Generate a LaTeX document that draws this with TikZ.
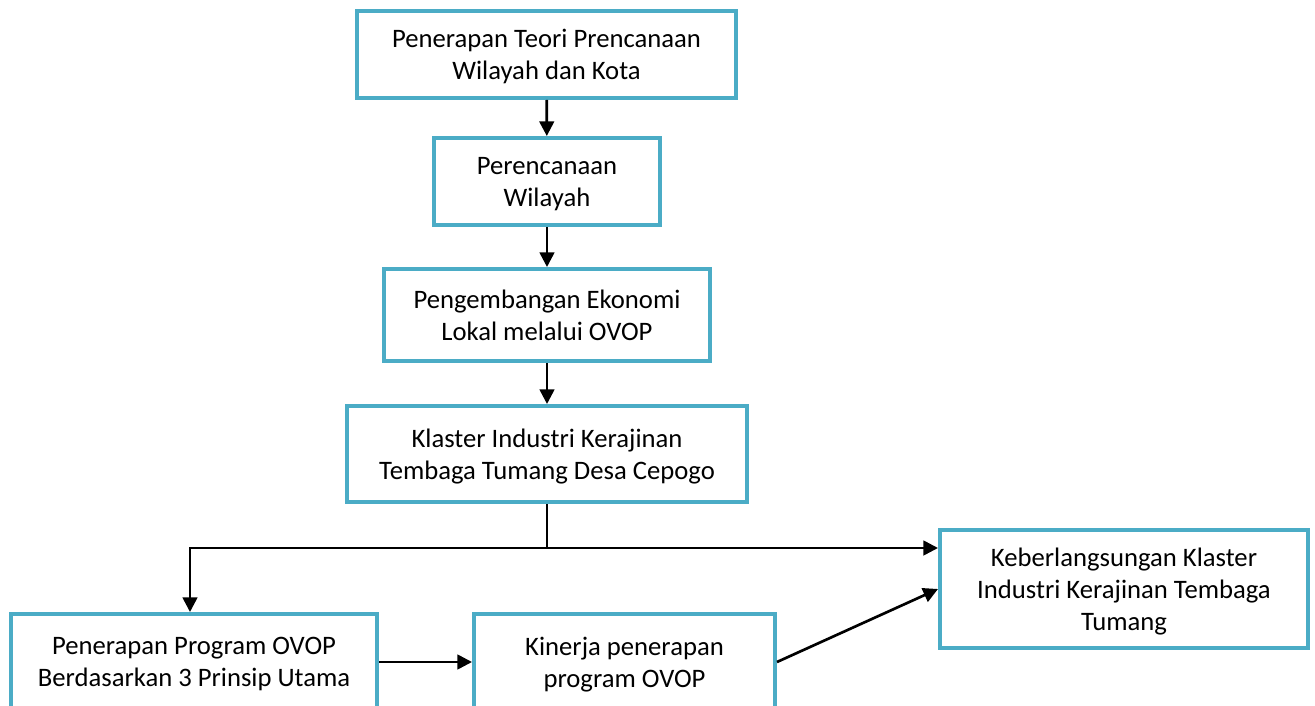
\documentclass[tikz,border=0pt]{standalone}
\usepackage{fontspec}
\setmainfont{Carlito}
\usetikzlibrary{arrows.meta}
\definecolor{boxblue}{HTML}{4BACC6}
\begin{document}
\begin{tikzpicture}[x=0.75pt,y=-0.75pt,
  box/.style={draw=boxblue,line width=3pt,align=center,inner sep=0pt,text depth=0pt,
    font=\fontsize{20}{24}\selectfont},
  arr/.style={line width=2pt,-{Triangle[length=11pt,width=11pt]}},
  ln/.style={line width=2pt}]
\clip (0,0) rectangle (1315,706);
\fill[white] (0,0) rectangle (1315,706);
\node[box,minimum width=379*0.75pt,minimum height=87*0.75pt] (b1) at (546.5,54.5) {Penerapan Teori Prencanaan\\Wilayah dan Kota};
\node[box,minimum width=226*0.75pt,minimum height=87*0.75pt] (b2) at (547,181.5) {Perencanaan\\Wilayah};
\node[box,minimum width=326*0.75pt,minimum height=92*0.75pt] (b3) at (547,315) {Pengembangan Ekonomi\\Lokal melalui OVOP};
\node[box,minimum width=400*0.75pt,minimum height=96*0.75pt] (b4) at (547,454) {Klaster Industri Kerajinan\\Tembaga Tumang Desa Cepogo};
\node[box,minimum width=366*0.75pt,minimum height=96*0.75pt] (b5) at (194,662) {Penerapan Program OVOP\\Berdasarkan 3 Prinsip Utama};
\node[box,minimum width=301*0.75pt,minimum height=96*0.75pt] (b6) at (624.5,662) {Kinerja penerapan\\program OVOP};
\node[box,minimum width=368*0.75pt,minimum height=118*0.75pt] (b7) at (1124,589) {Keberlangsungan Klaster\\Industri Kerajinan Tembaga\\Tumang};
\coordinate (j) at (547,548);
\draw[arr] (b1) -- (b2);
\draw[arr] (b2) -- (b3);
\draw[arr] (b3) -- (b4);
\draw[ln] (b4.south) -- (j);
\draw[arr] (j) -| ([xshift=-3pt]b5.north);
\draw[arr] (j) -- (j -| b7.west);
\draw[arr] (b5.east) -- (b6.west);
\draw[arr] (b6.east) -- (b7.west);
\end{tikzpicture}
\end{document}
